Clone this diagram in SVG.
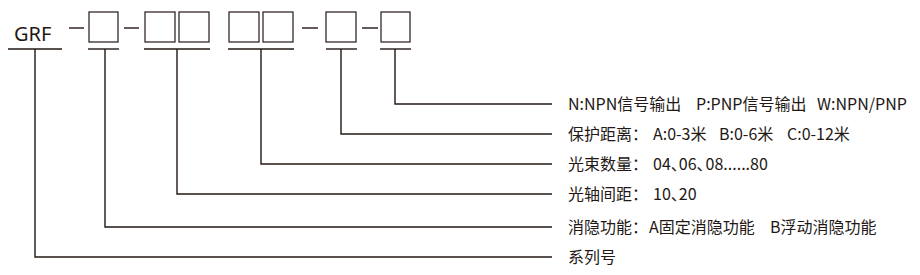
<svg xmlns="http://www.w3.org/2000/svg" width="920" height="275" viewBox="0 0 920 275">
<style>
.ln{stroke:#231815;stroke-width:1.4;fill:none}
.bx{stroke:#231815;stroke-width:1.2;fill:#fff}
.t{font-family:"Noto Sans CJK SC","Noto Sans",sans-serif;font-size:16px;fill:#231815}
.g{font-family:"Noto Sans","Noto Sans CJK SC",sans-serif;font-size:20px;fill:#231815}
</style>
<rect width="920" height="275" fill="#fff"/>
<g id="code">
<text class="g" x="14" y="41">GRF</text>
<line class="ln" x1="69" y1="28" x2="84" y2="28"/>
<rect class="bx" x="89" y="12" width="29" height="30"/>
<line class="ln" x1="124" y1="28" x2="139" y2="28"/>
<rect class="bx" x="145" y="12" width="30" height="30"/>
<rect class="bx" x="179" y="12" width="30" height="30"/>
<rect class="bx" x="229" y="12" width="30" height="30"/>
<rect class="bx" x="263" y="12" width="30" height="30"/>
<line class="ln" x1="302" y1="28" x2="318" y2="28"/>
<rect class="bx" x="326" y="12" width="30" height="30"/>
<line class="ln" x1="362" y1="28" x2="378" y2="28"/>
<rect class="bx" x="381" y="12" width="29" height="30"/>
</g>
<g id="connectors" class="ln">
<line x1="8" y1="49" x2="62" y2="49"/>
<line x1="88" y1="49" x2="119" y2="49"/>
<line x1="144" y1="49" x2="210" y2="49"/>
<line x1="228" y1="49" x2="294" y2="49"/>
<line x1="326" y1="49" x2="357" y2="49"/>
<line x1="380" y1="49" x2="411" y2="49"/>
<polyline points="395,49 395,104 552,104"/>
<polyline points="341,49 341,134 552,134"/>
<polyline points="261,49 261,164 552,164"/>
<polyline points="177,49 177,194 552,194"/>
<polyline points="105,49 105,227 552,227"/>
<polyline points="35,49 35,257 552,257"/>
</g>
<g id="label1"><text class="t" y="110"><tspan x="568">N:NPN信号输出</tspan><tspan x="696">P:PNP信号输出</tspan><tspan x="817">W:NPN/PNP</tspan></text></g>
<g id="label2"><text class="t" y="140"><tspan x="568">保护距离：</tspan><tspan x="653">A:0-3米</tspan><tspan x="719">B:0-6米</tspan><tspan x="787">C:0-12米</tspan></text></g>
<g id="label3"><text class="t" y="170"><tspan x="568">光束数量：</tspan><tspan x="653" dx="0 0 0 -8 0 0 -7">04、06、08......80</tspan></text></g>
<g id="label4"><text class="t" y="200"><tspan x="568">光轴间距：</tspan><tspan x="653" dx="0 0 0 -8">10、20</tspan></text></g>
<g id="label5"><text class="t" y="233"><tspan x="568">消隐功能：</tspan><tspan x="649">A固定消隐功能</tspan><tspan x="770">B浮动消隐功能</tspan></text></g>
<g id="label6"><text class="t" x="568" y="263">系列号</text></g>
</svg>
